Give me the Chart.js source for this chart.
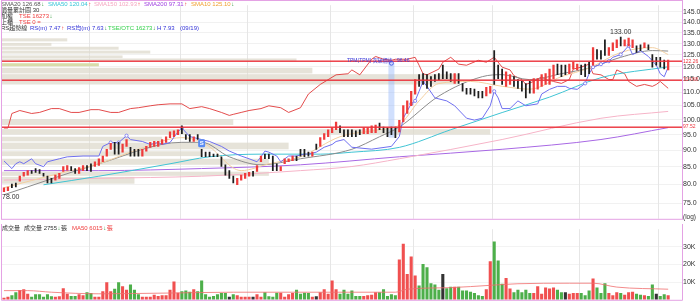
<!DOCTYPE html>
<html lang="zh-Hant">
<head>
<meta charset="UTF-8">
<title>RS 趨勢線 – 價量圖</title>
<script src="https://cdn.jsdelivr.net/npm/chart.js@4.4.0/dist/chart.umd.min.js"></script>
<style>
  * { margin: 0; padding: 0; box-sizing: border-box; }
  body { width: 700px; height: 305px; background: #fff; overflow: hidden; position: relative; }
  #priceBox { position: absolute; left: 0; top: 0; width: 700px; height: 224px; }
  #volBox { position: absolute; left: 0; top: 224px; width: 700px; height: 81px; }
</style>
</head>
<body>

<div id="priceBox"><canvas id="priceChart" width="700" height="224"></canvas></div>
<div id="volBox"><canvas id="volChart" width="700" height="81"></canvas></div>

<script>
  // ---- data ----
  const priceTicks = [75, 80, 85, 90, 95, 100, 105, 110, 115, 120, 125, 130, 135, 140, 145];
  const volTicks = [10, 20, 30];               // thousands of lots
  const monthStarts = [22, 45, 62, 83, 104, 124, 146, 166];
  const levels = [122.26, 114.68, 97.52];

  const barLow = [
    78.0, 78.3, 79.1, 79.3, 80.9, 82.3, 82.6, 83.1, 83.4, 83.1,
    82.3, 80.4, 80.4, 81.2, 81.7, 83.7, 84.0, 83.9, 83.1, 83.1,
    83.9, 83.9, 83.7, 85.1, 85.4, 86.5, 88.2, 90.3, 88.8, 88.8,
    89.4, 91.2, 88.2, 88.2, 88.2, 88.2, 89.7, 90.9, 91.2, 91.2,
    91.9, 92.5, 94.0, 94.3, 95.0, 95.3, 93.4, 92.8, 92.8, 93.4,
    88.0, 88.0, 88.0, 88.0, 88.0, 85.1, 82.6, 81.7, 80.4, 79.9,
    81.2, 81.7, 82.3, 82.3, 83.7, 86.5, 87.4, 87.4, 83.9, 83.9,
    83.9, 85.9, 86.5, 86.8, 86.8, 88.2, 88.0, 88.2, 88.2, 90.3,
    91.2, 93.4, 94.3, 95.6, 96.6, 95.6, 94.3, 94.3, 94.3, 94.3,
    95.0, 95.3, 95.3, 95.6, 95.6, 96.6, 95.6, 94.3, 95.0, 94.0,
    95.9, 99.2, 102.2, 105.0, 109.2, 112.2, 112.9, 111.4, 112.2, 114.1,
    114.8, 115.2, 115.2, 114.1, 113.3, 113.3, 110.3, 109.2, 109.2, 108.5,
    107.8, 107.8, 108.5, 109.6, 112.9, 115.2, 112.9, 112.2, 112.9, 112.2,
    111.4, 110.3, 107.8, 109.6, 109.6, 111.1, 112.2, 112.9, 112.9, 115.2,
    116.8, 116.0, 116.8, 117.2, 119.1, 118.7, 116.8, 116.0, 117.2, 120.7,
    123.2, 123.2, 124.8, 124.8, 126.9, 128.2, 129.0, 129.0, 129.0, 128.2,
    126.1, 126.9, 128.2, 127.3, 119.9, 120.7, 119.9, 119.1, 118.7
  ];
  const barHigh = [
    79.1, 79.3, 80.1, 80.4, 82.3, 83.4, 83.9, 83.9, 84.5, 84.2,
    83.1, 82.3, 81.7, 82.6, 83.1, 85.1, 85.4, 85.1, 84.5, 84.8,
    85.4, 85.4, 85.9, 86.5, 87.4, 88.2, 90.3, 92.2, 92.5, 92.5,
    91.9, 93.4, 90.9, 90.3, 90.3, 90.3, 91.2, 92.5, 92.8, 92.8,
    93.4, 94.3, 95.9, 96.2, 96.6, 97.9, 95.0, 95.0, 94.3, 95.0,
    90.3, 89.4, 89.4, 88.8, 88.8, 88.0, 85.6, 83.9, 82.3, 81.7,
    82.6, 83.1, 83.4, 83.7, 85.4, 88.2, 88.8, 88.8, 88.2, 85.9,
    85.1, 87.4, 87.4, 88.2, 88.2, 90.3, 90.3, 89.4, 89.4, 91.9,
    94.0, 95.3, 96.6, 97.2, 99.2, 97.9, 96.6, 96.6, 96.6, 96.2,
    96.6, 97.2, 97.2, 97.9, 98.2, 98.8, 97.5, 97.2, 97.5, 97.5,
    99.8, 105.0, 106.7, 110.3, 114.8, 116.8, 117.2, 116.8, 116.0, 116.8,
    117.2, 120.7, 117.9, 117.2, 117.2, 117.2, 113.3, 111.4, 111.4, 111.1,
    110.3, 110.3, 111.8, 112.2, 126.9, 120.7, 119.1, 117.9, 116.8, 116.0,
    114.8, 114.1, 113.3, 114.1, 115.2, 115.2, 116.8, 117.2, 119.1, 120.7,
    121.1, 120.7, 120.7, 121.1, 121.9, 121.1, 120.7, 121.1, 121.9, 128.2,
    127.3, 126.9, 131.7, 128.2, 130.3, 131.7, 133.0, 131.7, 132.5, 131.7,
    129.0, 129.5, 130.3, 129.5, 125.2, 124.0, 124.0, 122.8, 122.8
  ];
  // r = up, g = down, k = flat
  const barDir = (
    'rrggrrrggg' + 'gggrrrrggr' + 'rggrrrrrgg' + 'rrgggrrrrr' +
    'rrrrrgggrg' + 'gggggggkgr' + 'rrrkrrgggg' + 'rrrrggggrk' +
    'rrrrrggggg' + 'grrrrggggg' + 'rrrrrggggg' + 'gkggrggggg' +
    'ggrrgggrrg' + 'ggggrrrrrr' + 'ggkrrrgggr' + 'gggrrrgrrr' + 'ggrggkggr'
  ).split('');

  const volK = [
    1.2, 1.7, 2.6, 4.3, 5.5, 6.0, 3.4, 1.7, 3.1, 3.1,
    1.7, 3.1, 2.0, 1.7, 2.0, 6.5, 3.4, 2.2, 2.2, 3.1,
    2.6, 4.3, 3.8, 1.7, 1.7, 4.9, 10.0, 4.9, 6.2, 10.0,
    7.7, 5.7, 8.6, 5.7, 3.1, 1.7, 1.7, 1.7, 2.9, 2.2,
    2.6, 2.6, 5.7, 10.3, 4.0, 4.9, 5.2, 4.5, 6.0, 4.9,
    11.0, 3.1, 1.7, 2.2, 3.1, 3.8, 3.8, 1.7, 3.1, 2.6,
    1.7, 1.7, 1.7, 1.7, 3.1, 1.7, 4.3, 2.0, 1.7, 4.0,
    4.0, 1.7, 3.1, 3.8, 5.7, 3.4, 4.0, 3.8, 1.7, 2.0,
    4.3, 6.0, 3.4, 11.0, 6.0, 3.4, 5.7, 3.4, 5.2, 2.1,
    2.1, 2.2, 2.6, 2.9, 4.3, 4.3, 6.0, 2.1, 3.1, 2.6,
    22.8, 31.8, 14.6, 24.5, 13.7, 8.1, 20.3, 18.4, 9.4, 8.6,
    5.7, 14.6, 6.5, 7.4, 7.4, 7.4, 5.2, 5.2, 4.6, 3.9,
    2.6, 2.1, 6.0, 21.8, 33.0, 22.3, 9.1, 12.4, 6.4, 4.3,
    5.7, 4.3, 5.7, 3.8, 3.8, 7.7, 3.4, 6.9, 6.4, 6.9,
    5.7, 4.3, 4.3, 3.4, 3.9, 3.9, 3.8, 2.6, 5.2, 12.0,
    6.9, 3.9, 9.4, 3.9, 2.6, 4.3, 3.8, 2.9, 4.3, 4.6,
    3.4, 2.9, 2.6, 2.1, 8.6, 3.4, 2.2, 3.1, 2.6
  ];
  const volMa50 = [[0, 5.2], [6, 5.2], [12, 4.3], [24, 3.4], [41, 3.8], [58, 4.3], [88, 4.3], [99, 4.3],
    [102, 6.0], [113, 6.9], [123, 8.2], [130, 9.1], [143, 9.4], [149, 9.4], [155, 7.2], [168, 6.0]];

  // moving averages, [bar index, price]
  const sma10 = [[0, 79.1], [14, 83.1], [24, 85.9], [34, 90.3], [45, 94.0], [51, 91.9], [60, 83.9], [67, 85.9],
    [75, 88.0], [85, 94.3], [95, 96.6], [100, 98.2], [105, 106.7], [110, 113.3], [118, 114.1], [126, 112.2],
    [133, 111.1], [141, 116.0], [148, 119.5], [156, 126.1], [164, 128.2], [168, 125.2]];
  const sma20 = [[0, 77.2], [24, 85.9], [45, 92.5], [50, 92.5], [57, 88.0], [65, 85.6], [75, 87.4], [88, 90.3],
    [95, 94.3], [100, 97.5], [110, 108.5], [121, 116.0], [126, 116.8], [133, 114.8], [141, 117.2], [148, 119.5],
    [156, 124.0], [164, 126.9], [168, 126.7]];
  const sma50 = [[10, 79.9], [24, 82.3], [42, 85.9], [52, 88.0], [65, 88.8], [80, 88.8], [88, 89.4], [100, 90.9],
    [113, 96.6], [126, 102.5], [138, 108.1], [151, 115.6], [168, 120.0]];
  const sma150 = [[0, 81.2], [24, 81.7], [50, 82.3], [75, 83.9], [88, 85.1], [100, 87.4], [126, 93.4], [151, 100.5], [168, 102.9]];
  const sma200 = [[0, 83.9], [24, 83.9], [50, 84.5], [75, 85.6], [100, 88.0], [126, 90.3], [151, 93.4], [168, 97.3]];

  // RS trend line and RS rating, own 0–100 scale
  const rsLine = [[0, 42.5], [1, 42.5], [2, 49.3], [4, 50.7], [7, 49.3], [9, 49.8], [12, 51.6], [14, 51.6], [17, 49.8],
    [19, 49.8], [22, 51.1], [24, 51.1], [27, 49.8], [29, 49.8], [32, 51.6], [34, 52.0], [37, 52.9], [39, 53.4],
    [42, 53.8], [45, 53.8], [47, 51.6], [50, 52.5], [52, 51.6], [55, 49.8], [57, 48.4], [58, 48.9], [60, 49.8],
    [62, 50.7], [65, 51.6], [67, 52.9], [70, 52.0], [72, 49.8], [75, 52.0], [77, 58.4], [80, 62.9], [84, 67.4],
    [87, 67.9], [88, 69.7], [90, 67.4], [93, 74.7], [94, 76.0], [96, 74.7], [98, 74.2], [99, 74.7], [102, 74.7],
    [104, 75.6], [105, 71.9], [106, 67.9], [107, 67.4], [110, 70.1], [111, 73.3], [113, 75.6], [115, 72.4],
    [117, 71.9], [120, 74.2], [122, 73.3], [124, 75.6], [126, 71.0], [128, 69.7], [129, 67.0], [131, 65.2],
    [132, 62.9], [134, 64.3], [136, 66.5], [137, 65.2], [139, 64.3], [141, 63.4], [143, 65.2], [144, 70.1],
    [146, 71.0], [148, 72.4], [149, 67.9], [151, 67.4], [153, 65.2], [154, 65.2], [155, 69.7], [157, 67.9],
    [158, 64.3], [160, 62.0], [162, 62.9], [164, 62.0], [165, 62.9], [166, 64.3], [168, 61.1]];
  const rsRating = [[0, 27.1], [2, 23.5], [3, 25.8], [4, 26.7], [5, 25.8], [7, 28.1], [8, 25.8], [10, 24.4],
    [11, 26.7], [14, 28.1], [16, 29.0], [20, 29.4], [24, 29.4], [25, 33.9], [27, 35.7], [29, 35.7], [31, 38.9],
    [32, 37.1], [35, 36.2], [37, 34.8], [39, 35.7], [40, 34.8], [42, 35.7], [44, 40.7], [45, 42.5], [47, 38.5],
    [50, 37.1], [52, 36.2], [55, 33.9], [57, 31.7], [60, 29.4], [62, 28.1], [64, 26.7], [65, 29.0], [66, 31.7],
    [67, 31.2], [69, 29.4], [70, 26.7], [72, 29.4], [74, 29.4], [76, 30.3], [77, 30.3], [79, 31.2], [81, 33.5],
    [83, 34.8], [84, 36.2], [86, 37.1], [88, 33.5], [93, 32.6], [98, 33.9], [100, 38.5], [101, 47.1], [103, 53.8],
    [104, 55.2], [105, 59.7], [106, 64.3], [107, 62.0], [109, 56.6], [112, 55.2], [114, 52.9], [117, 47.1],
    [119, 46.2], [121, 47.1], [123, 52.9], [124, 59.7], [125, 56.6], [126, 51.6], [128, 51.6], [130, 55.2],
    [132, 52.9], [135, 53.8], [136, 58.4], [138, 60.6], [140, 62.0], [142, 62.0], [143, 61.1], [145, 60.6],
    [147, 63.4], [148, 67.9], [149, 71.0], [151, 72.4], [153, 73.8], [154, 75.6], [156, 76.9], [158, 81.0],
    [159, 76.9], [161, 78.7], [163, 76.0], [165, 71.9], [166, 67.9], [167, 66.5], [168, 71.0]];
  const rsMarks = [27, 29, 31, 45, 103, 104, 106, 124, 147, 149, 151, 153, 156, 158];

  // volume-at-price rows: [low, high, last bar index]
  const profileRows = [
    [131.0, 132.4, 16], [129.0, 130.3, 12], [127.3, 128.6, 29], [125.6, 126.9, 37], [123.7, 124.8, 30],
    [122.5, 123.5, 74], [120.2, 121.5, 24], [117.3, 119.6, 78], [112.9, 117.0, 115], [98.2, 100.2, 58],
    [95.0, 96.8, 123], [92.8, 94.3, 40], [90.3, 92.4, 72], [88.2, 89.7, 50], [85.6, 87.4, 67],
    [82.4, 83.6, 67], [80.2, 82.1, 33]
  ];
  const profileHighlight = 6;
  const breakout = { index: 98, low: 94.0, high: 121.5, price: '96.46' };
  const signalS = { index: 50, price: 92.2 };
  const highMark = { index: 156, value: 133.0 };
  const lowMark = { index: 0, value: 78.0 };

  // ---- styles ----
  const RED = '#ef3b3b', GREEN = '#2f9a3a', INK = '#333', LEVEL = 'rgb(236,52,60)';
  const labels = Array.from({ length: 172 }, (_, i) => i);
  const toPts = arr => arr.map(([x, y]) => ({ x, y }));
  const FONT = '"Liberation Sans", "Noto Sans CJK TC", sans-serif';

  function runs(ctx, x, y, parts) {
    parts.forEach(([t, c]) => {
      ctx.fillStyle = c;
      ctx.fillText(t, x, y);
      x += ctx.measureText(t).width + 0.5;
    });
  }

  function drawMonthLines(ctx, area, xs) {
    ctx.fillStyle = '#e6e6e6';
    monthStarts.forEach(i => {
      const px = Math.round(xs.getPixelForValue(i) - 2);
      ctx.fillRect(px, area.top, 1, area.bottom - area.top);
    });
  }

  const priceDeco = {
    id: 'priceDeco',
    beforeDatasetsDraw(chart) {
      const { ctx, chartArea: a, scales: { x, y } } = chart;
      ctx.save();
      drawMonthLines(ctx, a, x);
      profileRows.forEach(([lo, hi, end], k) => {
        const top = y.getPixelForValue(hi), bot = y.getPixelForValue(lo);
        ctx.fillStyle = k === profileHighlight ? '#d8dcaa' : 'rgba(222,218,204,0.75)';
        ctx.fillRect(a.left, top, x.getPixelForValue(end) - a.left, bot - top);
      });
      // breakout day highlight
      const bx = x.getPixelForValue(breakout.index);
      const bt = y.getPixelForValue(breakout.high), bb = y.getPixelForValue(breakout.low);
      ctx.fillStyle = 'rgba(150,185,250,0.45)';
      ctx.fillRect(bx - 3, bt, 6, bb - bt);
      ctx.restore();
    },
    afterDatasetsDraw(chart) {
      const { ctx, chartArea: a, scales: { x, y } } = chart;
      ctx.save();
      // horizontal levels
      ctx.fillStyle = LEVEL;
      levels.forEach(v => {
        const py = Math.round(y.getPixelForValue(v));
        ctx.fillRect(a.left, py - 0.5, a.right - a.left, 1.4);
      });
      ctx.font = '5px ' + FONT;
      ctx.textBaseline = 'middle';
      levels.forEach(v => ctx.fillText(v.toFixed(2), a.right + 1, y.getPixelForValue(v)));

      // breakout marker and text
      const bx = x.getPixelForValue(breakout.index);
      const bt = y.getPixelForValue(breakout.high);
      ctx.strokeStyle = '#4a5ee8';
      ctx.lineWidth = 1;
      ctx.beginPath(); ctx.arc(bx, bt, 2, 0, Math.PI * 2); ctx.stroke();
      ctx.font = '5px ' + FONT;
      ctx.fillStyle = '#3a3ad8';
      ctx.textAlign = 'right';
      ctx.fillText('TPM(TPM) 突破價格 : ' + breakout.price, bx + 18, bt - 3);

      // S signal
      const sx = x.getPixelForValue(signalS.index), sy = y.getPixelForValue(signalS.price);
      ctx.fillStyle = '#5b8cf2';
      ctx.beginPath(); ctx.roundRect(sx - 3.5, sy - 4, 7, 8, 1.5); ctx.fill();
      ctx.fillStyle = '#fff';
      ctx.font = 'bold 6px ' + FONT;
      ctx.textAlign = 'center';
      ctx.fillText('S', sx, sy + 0.5);

      // high / low labels
      ctx.font = '7px ' + FONT;
      ctx.fillStyle = INK;
      ctx.textBaseline = 'alphabetic';
      ctx.fillText(highMark.value.toFixed(2), x.getPixelForValue(highMark.index), y.getPixelForValue(highMark.value) - 3);
      ctx.textAlign = 'left';
      ctx.fillText(lowMark.value.toFixed(2), a.left, y.getPixelForValue(lowMark.value) + 7);
      ctx.restore();
    },
    afterDraw(chart) {
      const { ctx, chartArea: a } = chart;
      ctx.save();
      ctx.font = '6.5px ' + FONT;
      ctx.textBaseline = 'middle';
      ctx.fillStyle = INK;
      ctx.fillText('(log)', a.right + 1, a.bottom - 2);

      ctx.font = '6px ' + FONT;
      const hdr = [
        [1, 4, [['SMA20 126.68', '#555'], ['↓', GREEN]]],
        [48, 4, [['SMA50 120.04', '#35c4d6'], ['↑', RED]]],
        [94, 4, [['SMA150 102.93', '#f4a6c0'], ['↑', RED]]],
        [144, 4, [['SMA200 97.31', '#a040e0'], ['↑', RED]]],
        [191, 4, [['SMA10 125.10', '#f0a030'], ['↓', GREEN]]],
        [1, 10, [['價量累計圖 30', INK]]],
        [1, 16, [['加權', INK]]],
        [19, 16, [['TSE 16273', RED], ['↓', GREEN]]],
        [1, 22, [['上櫃', INK]]],
        [19, 22, [['TSE 0 =', RED]]],
        [1, 28, [['RS趨勢線', INK]]],
        [30, 28, [['RS(m) 7.47', '#3434d8'], ['↑', RED]]],
        [67, 28, [['RS均(m) 7.63', '#3434d8'], ['↓', GREEN]]],
        [108, 28, [['TSE/OTC 16273', '#33d04a'], ['↓', GREEN]]],
        [157, 28, [['H 7.93', '#3434d8']]],
        [180, 28, [['(09/19)', '#3434d8']]]
      ];
      hdr.forEach(([hx, hy, parts]) => runs(ctx, hx, hy, parts));

      ctx.strokeStyle = '#e4a2e4';
      ctx.lineWidth = 1;
      ctx.strokeRect(a.left - 0.5, 0.5, a.right - a.left + 1, a.bottom);
      ctx.restore();
    }
  };

  const upBars = barLow.map((lo, i) => barDir[i] === 'r' ? [lo, barHigh[i]] : null);
  const downBars = barLow.map((lo, i) => barDir[i] !== 'r' ? [lo, barHigh[i]] : null);

  new Chart(document.getElementById('priceChart'), {
    type: 'bar',
    data: {
      labels,
      datasets: [
        { label: 'up', order: 0, yAxisID: 'y', data: upBars, backgroundColor: RED, barThickness: 1.6, grouped: false },
        { label: 'down', order: 0, yAxisID: 'y', data: downBars, backgroundColor: '#1e1e1e', barThickness: 1.1, grouped: false },
        { type: 'line', order: 1, yAxisID: 'ind', data: toPts(rsRating), borderColor: '#6f6ff0', borderWidth: 1,
          pointRadius: c => rsMarks.includes(c.raw.x) ? 1.6 : 0, pointBackgroundColor: '#fff', pointBorderColor: '#6f6ff0', pointBorderWidth: 0.8 },
        { type: 'line', order: 2, yAxisID: 'y', data: toPts(sma10), borderColor: '#f3cfa0', borderWidth: 1, pointRadius: 0, cubicInterpolationMode: 'monotone' },
        { type: 'line', order: 2, yAxisID: 'y', data: toPts(sma20), borderColor: '#8c8c8c', borderWidth: 1, pointRadius: 0, cubicInterpolationMode: 'monotone' },
        { type: 'line', order: 2, yAxisID: 'y', data: toPts(sma50), borderColor: '#40c4d4', borderWidth: 1, pointRadius: 0, cubicInterpolationMode: 'monotone' },
        { type: 'line', order: 2, yAxisID: 'y', data: toPts(sma150), borderColor: '#f6b4c8', borderWidth: 1, pointRadius: 0, cubicInterpolationMode: 'monotone' },
        { type: 'line', order: 2, yAxisID: 'y', data: toPts(sma200), borderColor: '#a868e4', borderWidth: 1, pointRadius: 0, cubicInterpolationMode: 'monotone' },
        { type: 'line', order: 3, yAxisID: 'ind', data: toPts(rsLine), borderColor: '#e03838', borderWidth: 0.9, pointRadius: 0 }
      ]
    },
    options: {
      responsive: false,
      animation: false,
      layout: { padding: { left: 2, top: 1, bottom: 2, right: 0 } },
      plugins: { legend: { display: false }, tooltip: { enabled: false } },
      scales: {
        x: { display: false },
        y: {
          type: 'logarithmic', position: 'right', min: 71.06, max: 148.4,
          afterBuildTicks: s => { s.ticks = priceTicks.map(v => ({ value: v })); },
          afterFit: s => { s.width = 18; },
          ticks: { callback: v => Number(v).toFixed(1), font: { size: 7, family: FONT }, color: INK, padding: 1 },
          grid: { color: '#f1f1f1', drawTicks: false },
          border: { display: false }
        },
        ind: { display: false, min: 0, max: 100 }
      }
    },
    plugins: [priceDeco]
  });

  const volDeco = {
    id: 'volDeco',
    beforeDatasetsDraw(chart) {
      const { ctx, chartArea: a, scales: { x } } = chart;
      ctx.save();
      drawMonthLines(ctx, a, x);
      ctx.restore();
    },
    afterDraw(chart) {
      const { ctx, chartArea: a } = chart;
      ctx.save();
      ctx.font = '6px ' + FONT;
      ctx.textBaseline = 'middle';
      runs(ctx, 2, 4, [['成交量', INK]]);
      runs(ctx, 24, 4, [['成交量 2755', INK], ['↓', GREEN], ['張', INK]]);
      runs(ctx, 72, 4, [['MA50 6015', RED], ['↓', GREEN], ['張', RED]]);
      ctx.strokeStyle = '#e4a2e4';
      ctx.lineWidth = 1;
      ctx.beginPath();
      ctx.moveTo(a.left - 0.5, 0); ctx.lineTo(a.left - 0.5, a.bottom + 0.5);
      ctx.lineTo(a.right + 0.5, a.bottom + 0.5); ctx.lineTo(a.right + 0.5, 0);
      ctx.stroke();
      ctx.restore();
    }
  };

  new Chart(document.getElementById('volChart'), {
    type: 'bar',
    data: {
      labels,
      datasets: [
        {
          label: '成交量', order: 1,
          data: volK,
          backgroundColor: barDir.map(d => d === 'r' ? '#f05050' : d === 'k' ? '#333' : '#4daf4a'),
          barPercentage: 0.78, categoryPercentage: 1
        },
        { type: 'line', order: 0, label: 'MA50', data: toPts(volMa50), borderColor: 'rgba(240,110,110,0.8)', borderWidth: 1, pointRadius: 0, cubicInterpolationMode: 'monotone' }
      ]
    },
    options: {
      responsive: false,
      animation: false,
      layout: { padding: { left: 2, top: 2, bottom: 1.5, right: 0 } },
      plugins: { legend: { display: false }, tooltip: { enabled: false } },
      scales: {
        x: { display: false },
        y: {
          position: 'right', min: 0, max: 40,
          afterBuildTicks: s => { s.ticks = volTicks.map(v => ({ value: v })); },
          afterFit: s => { s.width = 18; },
          ticks: { callback: v => v + 'K', font: { size: 7, family: FONT }, color: INK, padding: 1 },
          grid: { color: '#f3f3f3', drawTicks: false },
          border: { display: false }
        }
      }
    },
    plugins: [volDeco]
  });
</script>
</body>
</html>
